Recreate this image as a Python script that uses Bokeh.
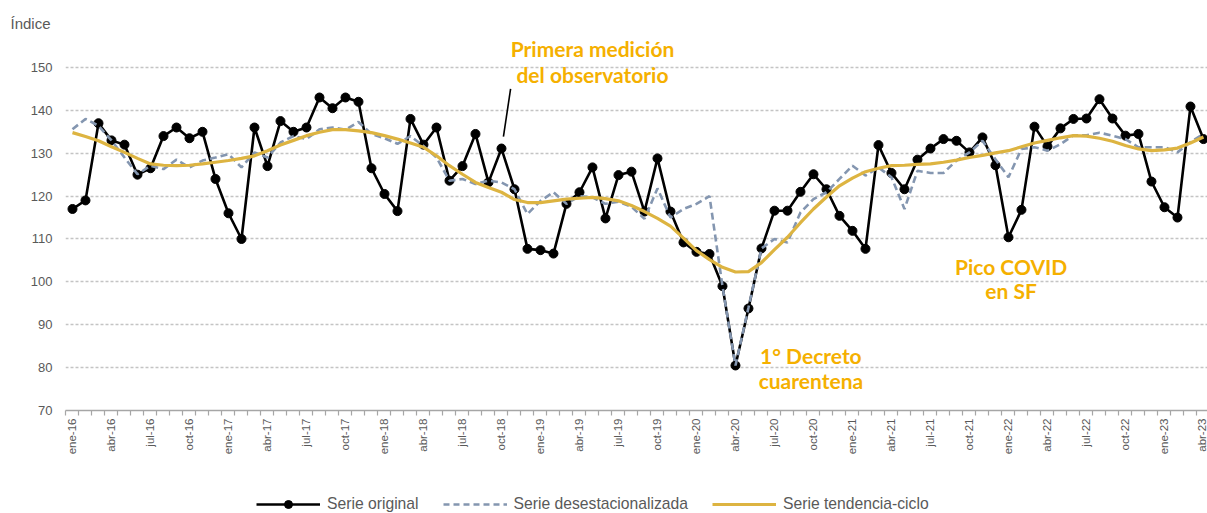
import numpy as np
from bokeh.plotting import figure
from bokeh.layouts import column
from bokeh.models import Range1d, FixedTicker, Label, Legend, LegendItem
from bokeh.embed import file_html
from bokeh.resources import INLINE

# ---------------- data ----------------
tick_labels = ["ene-16", "abr-16", "jul-16", "oct-16",
               "ene-17", "abr-17", "jul-17", "oct-17",
               "ene-18", "abr-18", "jul-18", "oct-18",
               "ene-19", "abr-19", "jul-19", "oct-19",
               "ene-20", "abr-20", "jul-20", "oct-20",
               "ene-21", "abr-21", "jul-21", "oct-21",
               "ene-22", "abr-22", "jul-22", "oct-22",
               "ene-23", "abr-23"]

serie_original = [117, 119, 137, 133, 132, 125, 126.5, 134, 136, 133.5,
                  135, 124, 116, 110, 136, 127, 137.5, 135, 136, 143,
                  140.5, 143, 142, 126.5, 120.5, 116.5, 138, 132, 136, 123.6,
                  127, 134.5, 123.2, 131.1, 121.6, 107.7, 107.4, 106.6, 118.2, 120.9,
                  126.7, 114.8, 124.9, 125.7, 116.4, 128.8, 116.4, 109.2, 107, 106.5,
                  99, 80.5, 93.8, 107.8, 116.6, 116.6, 121, 125.1, 121.6, 115.4,
                  111.9, 107.7, 131.9, 125.4, 121.6, 128.5, 131.1, 133.3, 132.9, 130.2,
                  133.7, 127.2, 110.4, 116.8, 136.2, 131.6, 135.8, 138, 138.1, 142.6,
                  138.1, 134.1, 134.5, 123.4, 117.4, 115, 140.9, 133.3]

serie_desest = [135.6, 138, 136.4, 133, 129, 125.1, 127.1, 126.3, 128.5, 126.7,
                128.3, 129, 129.8, 126.7, 130.2, 129, 132.5, 134, 133.3, 135.6,
                136, 135.5, 137.3, 134.5, 133.5, 132.2, 134, 131.7, 129, 123.6,
                124, 122.8, 123.6, 123.2, 121.6, 115.8, 118.9, 120.9, 118.2, 120,
                119.7, 118.2, 118.7, 117.5, 114.7, 121.8, 115, 117, 118.2, 120,
                99, 80.5, 94, 107.8, 110, 109.2, 116.2, 119.3, 120.9, 124,
                127.1, 124.8, 126.7, 124.4, 117, 125.9, 125.4, 125.4, 128.3, 130.2,
                132.9, 128.6, 124.4, 131, 131.4, 130.6, 132.1, 134.2, 134.2, 134.8,
                134.1, 133.3, 131.4, 131.4, 131.4, 130.2, 132.6, 134.5]

serie_tendencia = [134.8, 133.9, 132.9, 131.5, 130.2, 128.8, 127.5, 127.2, 127.1, 127.2,
                   127.5, 127.9, 128.3, 128.8, 129.4, 130.6, 131.9, 133.0, 134.1, 134.9,
                   135.5, 135.5, 135.2, 134.8, 134.1, 133.3, 132.4, 131.4, 129.4, 127.1,
                   125.1, 123.2, 122.0, 120.9, 119.2, 118.5, 118.5, 118.9, 119.3, 119.5,
                   119.7, 119.4, 118.9, 117.8, 116.4, 114.8, 113.0, 110.2, 107.3, 105.2,
                   103.4, 102.3, 102.4, 104.5, 107.5, 110.4, 113.8, 117.0, 119.8, 122.4,
                   124.2, 125.7, 126.5, 127.1, 127.2, 127.4, 127.5, 127.9, 128.4, 129.0,
                   129.5, 130.1, 130.6, 131.5, 132.4, 133.0, 133.6, 134.1, 134.0, 133.5,
                   132.8, 131.8, 131.0, 130.6, 130.8, 131.2, 132.4, 133.8]

series_names = ["Serie original", "Serie desestacionalizada", "Serie tendencia-ciclo"]
y_ticks = [70, 80, 90, 100, 110, 120, 130, 140, 150]

n = len(serie_original)
x = list(range(n))

GRAY_TXT = "#595959"
YELLOW = "#DDB441"
BLUE = "#8496B0"
ORANGE = "#F5B000"

# ---------------- main figure ----------------
p = figure(width=1207, height=485, output_backend="svg", toolbar_location=None,
           x_range=Range1d(-0.538, 87.31), y_range=Range1d(70, 157.46),
           min_border_left=65, min_border_right=0, min_border_top=35,
           min_border_bottom=75, title="Índice")
p.outline_line_color = None
p.background_fill_color = "white"

p.title.align = "left"
p.title.offset = -55
p.title.text_font = "Liberation Sans"
p.title.text_font_style = "normal"
p.title.text_font_size = "15px"
p.title.text_color = GRAY_TXT
p.title.standoff = 8

# axes
p.yaxis.ticker = FixedTicker(ticks=y_ticks)
p.yaxis.axis_line_color = None
p.yaxis.major_tick_line_color = None
p.yaxis.major_tick_out = 0
p.yaxis.major_tick_in = 0
p.yaxis.minor_tick_line_color = None
p.yaxis.major_label_text_font = "Liberation Sans"
p.yaxis.major_label_text_font_size = "13px"
p.yaxis.major_label_text_color = GRAY_TXT
p.yaxis.major_label_standoff = 13

major_pos = list(range(0, n, 3))
p.xaxis.ticker = FixedTicker(ticks=major_pos, minor_ticks=[i - 0.5 for i in range(n + 1)])
p.xaxis.major_label_overrides = {pos: lab for pos, lab in zip(major_pos, tick_labels)}
p.xaxis.major_label_orientation = np.pi / 2
p.xaxis.major_label_text_font = "Liberation Sans"
p.xaxis.major_label_text_font_size = "11.5px"
p.xaxis.major_label_text_color = GRAY_TXT
p.xaxis.major_label_standoff = 3
p.xaxis.major_tick_line_color = None
p.xaxis.major_tick_out = 5
p.xaxis.major_tick_in = 0
p.xaxis.minor_tick_line_color = "#a6a6a6"
p.xaxis.minor_tick_out = 5
p.xaxis.minor_tick_in = 0
p.xaxis.minor_tick_line_width = 1.2
p.xaxis.axis_line_color = "#a6a6a6"
p.xaxis.axis_line_width = 1.6

p.xgrid.grid_line_color = None
p.ygrid.grid_line_color = "#c4c4c4"
p.ygrid.grid_line_dash = "3 2"
p.ygrid.grid_line_width = 1.3

# series
p.line(x, serie_original, line_color="black", line_width=2.6)
p.scatter(x, serie_original, size=9, fill_color="black", line_color="black")
p.line(x, serie_desest, line_color=BLUE, line_width=2.6, line_dash="7 4")
p.line(x, serie_tendencia, line_color=YELLOW, line_width=3.2)

# pointer to first observatory measurement (oct-18)
i_obs = tick_labels.index("oct-18") * 3
p.segment(x0=[i_obs + 0.7], y0=[serie_original[i_obs] + 13.9],
          x1=[i_obs + 0.15], y1=[serie_original[i_obs] + 2.8],
          line_color="black", line_width=1.6)

# annotations
def add_label(xv, yv, txt, size="21px"):
    p.add_layout(Label(x=xv, y=yv, text=txt, text_align="center", text_baseline="middle",
                       text_font="Lato", text_font_style="bold",
                       text_font_size=size, text_color=ORANGE))

add_label(40.0, 154.4, "Primera medición")
add_label(40.0, 148.4, "del observatorio")
add_label(56.8, 82.8, "1° Decreto")
add_label(56.8, 77.0, "cuarentena")
add_label(72.2, 103.7, "Pico COVID")
add_label(72.2, 97.9, "en SF")

# ---------------- legend strip ----------------
# the strip repeats the series with a range that keeps them out of view;
# only their legend keys are shown
pl = figure(width=1207, height=28, output_backend="svg", toolbar_location=None,
            x_range=Range1d(-0.538, 87.31), y_range=Range1d(0, 1),
            x_axis_type=None, y_axis_type=None,
            min_border_left=0, min_border_right=0, min_border_top=0, min_border_bottom=0)
pl.outline_line_color = None
pl.xgrid.visible = False
pl.ygrid.visible = False
l1 = pl.line(x, serie_original, line_color="black", line_width=2.6)
l1b = pl.scatter(x, serie_original, size=9, fill_color="black", line_color="black")
l2 = pl.line(x, serie_desest, line_color=BLUE, line_width=2.6, line_dash="6 4")
l3 = pl.line(x, serie_tendencia, line_color=YELLOW, line_width=3.2)

legend = Legend(items=[
    LegendItem(label=series_names[0], renderers=[l1, l1b]),
    LegendItem(label=series_names[1], renderers=[l2]),
    LegendItem(label=series_names[2], renderers=[l3]),
], location=(191, -1), orientation="horizontal",
    glyph_width=64, glyph_height=20, label_height=20, label_standoff=7, spacing=24,
    padding=0, margin=0, border_line_color=None, background_fill_alpha=0,
    label_text_font="Liberation Sans", label_text_font_size="15.7px",
    label_text_color=GRAY_TXT)
pl.add_layout(legend, "center")

layout = column(p, pl, spacing=0)
open("out.html", "w").write(file_html(layout, INLINE))
